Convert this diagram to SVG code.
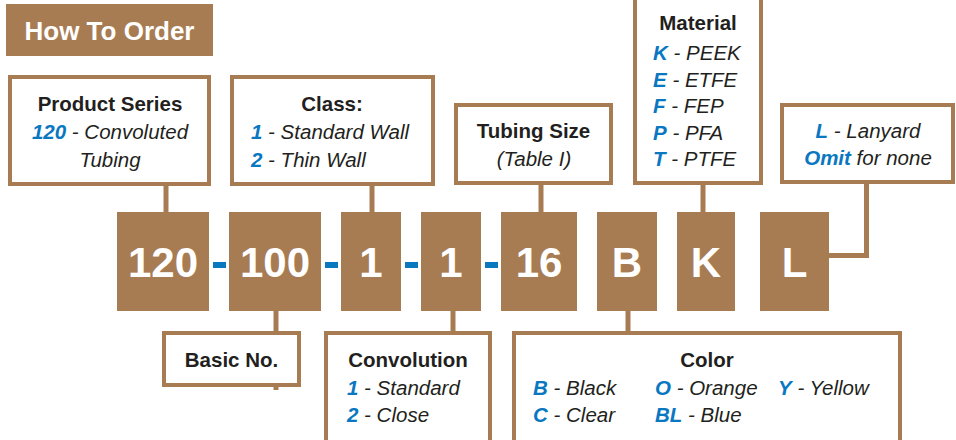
<svg xmlns="http://www.w3.org/2000/svg" width="956" height="440" viewBox="0 0 956 440">
<style>
.box{fill:#fff;stroke:#A87C52;stroke-width:4}
.code{fill:#A87C52}
.ct{font-family:"Liberation Sans",Arial,sans-serif;font-weight:bold;font-size:42px;fill:#fff;text-anchor:middle}
.t{font-family:"Liberation Sans",Arial,sans-serif;font-size:20.5px;fill:#231F20}
.h{font-weight:bold}
.i{font-style:italic}
.b{font-weight:bold;font-style:italic;fill:#0A77C1}
.m{text-anchor:middle}
.conn{stroke:#A87C52;stroke-width:5;fill:none}
.dash{fill:#0A77C1}
</style>
<rect width="956" height="440" fill="#fff"/>
<g id="title">
<rect x="6" y="4" width="207" height="52" fill="#A87C52"/>
<text x="109.5" y="40" font-family="'Liberation Sans',Arial,sans-serif" font-weight="bold" font-size="26" fill="#fff" text-anchor="middle">How To Order</text>
</g>
<g id="connectors">
<line class="conn" x1="166" y1="184" x2="166" y2="214"/>
<line class="conn" x1="372" y1="184" x2="372" y2="214"/>
<line class="conn" x1="541" y1="183" x2="541" y2="214"/>
<line class="conn" x1="703" y1="183" x2="703" y2="214"/>
<path class="conn" d="M866.5 183 V255.5 H827"/>
<line class="conn" x1="276" y1="309" x2="276" y2="390"/>
<line class="conn" x1="453" y1="309" x2="453" y2="334"/>
<line class="conn" x1="628" y1="309" x2="628" y2="334"/>
</g>
<g id="product-series">
<rect class="box" x="10" y="77" width="199" height="107"/>
<text class="t h m" x="110" y="111">Product Series</text>
<text class="t i m" x="110" y="139"><tspan class="b">120</tspan> - Convoluted</text>
<text class="t i m" x="110" y="167">Tubing</text>
</g>
<g id="class">
<rect class="box" x="232" y="77" width="201" height="107"/>
<text class="t h m" x="332" y="111">Class:</text>
<text class="t i" x="251" y="139"><tspan class="b">1</tspan> - Standard Wall</text>
<text class="t i" x="251" y="167"><tspan class="b">2</tspan> - Thin Wall</text>
</g>
<g id="tubing-size">
<rect class="box" x="456" y="105" width="155" height="78"/>
<text class="t h m" x="533.5" y="138">Tubing Size</text>
<text class="t i m" x="534" y="166">(Table I)</text>
</g>
<g id="material">
<rect class="box" x="635" y="-10" width="126" height="193"/>
<text class="t h m" x="698" y="30">Material</text>
<text class="t i" x="653" y="60"><tspan class="b">K</tspan> - PEEK</text>
<text class="t i" x="653" y="87"><tspan class="b">E</tspan> - ETFE</text>
<text class="t i" x="653" y="113"><tspan class="b">F</tspan> - FEP</text>
<text class="t i" x="653" y="140"><tspan class="b">P</tspan> - PFA</text>
<text class="t i" x="653" y="166"><tspan class="b">T</tspan> - PTFE</text>
</g>
<g id="lanyard">
<rect class="box" x="782" y="105" width="171" height="77"/>
<text class="t i m" x="868" y="138"><tspan class="b">L</tspan> - Lanyard</text>
<text class="t i m" x="868" y="165"><tspan class="b">Omit</tspan> for none</text>
</g>
<g id="code-120"><rect class="code" x="117" y="212" width="92" height="99"/><text class="ct" x="163" y="277">120</text></g>
<g id="code-100"><rect class="code" x="229" y="212" width="92" height="99"/><text class="ct" x="275" y="277">100</text></g>
<g id="code-class"><rect class="code" x="341" y="212" width="60" height="99"/><text class="ct" x="371" y="277">1</text></g>
<g id="code-conv"><rect class="code" x="421" y="212" width="60" height="99"/><text class="ct" x="451" y="277">1</text></g>
<g id="code-16"><rect class="code" x="501" y="212" width="76" height="99"/><text class="ct" x="539" y="277">16</text></g>
<g id="code-B"><rect class="code" x="597" y="212" width="60" height="99"/><text class="ct" x="627" y="277">B</text></g>
<g id="code-K"><rect class="code" x="677" y="212" width="58" height="99"/><text class="ct" x="706" y="277">K</text></g>
<g id="code-L"><rect class="code" x="760" y="212" width="69" height="99"/><text class="ct" x="794.5" y="277">L</text></g>
<g id="dashes">
<rect class="dash" x="213" y="262" width="13" height="6"/>
<rect class="dash" x="325" y="262" width="13" height="6"/>
<rect class="dash" x="405" y="262" width="13" height="6"/>
<rect class="dash" x="485" y="262" width="13" height="6"/>
</g>
<g id="basic-no">
<rect class="box" x="164" y="333" width="135" height="52"/>
<text class="t h m" x="231.5" y="367">Basic No.</text>
</g>
<g id="convolution">
<rect class="box" x="326" y="333" width="164" height="114"/>
<text class="t h m" x="408" y="367">Convolution</text>
<text class="t i" x="347" y="395"><tspan class="b">1</tspan> - Standard</text>
<text class="t i" x="347" y="422"><tspan class="b">2</tspan> - Close</text>
</g>
<g id="color">
<rect class="box" x="514" y="333" width="386" height="114"/>
<text class="t h m" x="707" y="367">Color</text>
<text class="t i" x="533" y="395"><tspan class="b">B</tspan> - Black</text>
<text class="t i" x="533" y="422"><tspan class="b">C</tspan> - Clear</text>
<text class="t i" x="655" y="395"><tspan class="b">O</tspan> - Orange</text>
<text class="t i" x="655" y="422"><tspan class="b">BL</tspan> - Blue</text>
<text class="t i" x="778" y="395"><tspan class="b">Y</tspan> - Yellow</text>
</g>
</svg>
